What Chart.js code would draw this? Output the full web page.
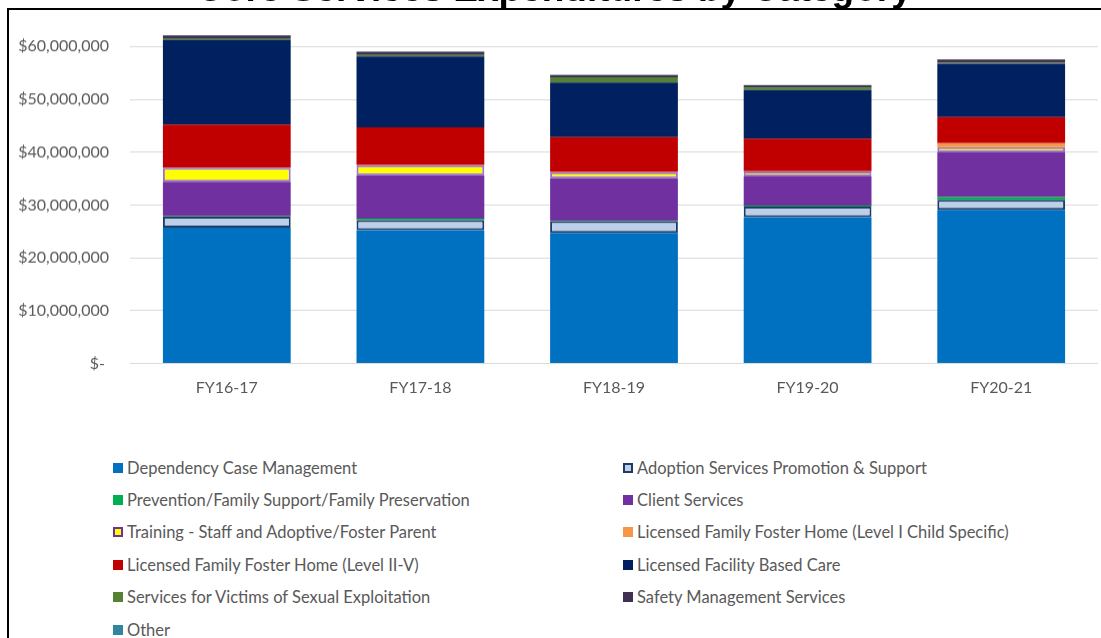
<!DOCTYPE html>
<html>
<head>
<meta charset="utf-8">
<title>Core Services Expenditures by Category</title>
<script src="https://cdn.jsdelivr.net/npm/chart.js@4.4.1/dist/chart.umd.min.js"></script>
<style>
  html, body { margin: 0; padding: 0; background: #fff; overflow: hidden; }
  body { width: 1101px; height: 638px; position: relative; font-family: Lato, sans-serif; }
  #frame { position: absolute; left: 7px; top: 8px; width: 1094px; height: 630px;
           border-left: 2px solid #000; border-top: 2px solid #000; box-sizing: border-box; }
  #title { position: absolute; left: 7px; width: 1094px; top: -29px; text-align: center;
           font: bold 37px "Liberation Sans", Arial, sans-serif; line-height: 36px; color: #000; white-space: nowrap; }
  #chartBox { position: absolute; left: 0; top: -18px; width: 1101px; height: 421px; }
  .item { position: absolute; display: flex; align-items: center; height: 20px;
          font-size: 16.5px; color: #595959; white-space: nowrap; }
  .swatch { width: 10px; height: 10px; box-sizing: border-box; margin-right: 4px; flex: none; }
</style>
</head>
<body>
<div id="frame"></div>
<div id="chartBox"><canvas id="chart"></canvas></div>
<div id="title">Core Services Expenditures by Category</div>
<div id="legend"></div>
<script>
const categories = ["FY16-17", "FY17-18", "FY18-19", "FY19-20", "FY20-21"];

// values in dollars
const dependencyCase = [25700000, 25250000, 24750000, 27700000, 29100000];
const adoptionServices = [2100000, 1900000, 2200000, 2000000, 1900000];
const prevention = [100000, 300000, 100000, 200000, 500000];
const clientServices = [6500000, 8200000, 8000000, 5500000, 8450000];
const training = [2650000, 1900000, 1150000, 950000, 1000000];
const fosterLevelI = [50000, 50000, 50000, 50000, 750000];
const fosterLevelII = [8100000, 7100000, 6600000, 6150000, 4950000];
const facilityCare = [16100000, 13400000, 10350000, 9200000, 10100000];
const victimsServices = [300000, 300000, 1000000, 500000, 200000];
const safetyManagement = [500000, 600000, 400000, 400000, 600000];
const other = [50000, 50000, 50000, 50000, 50000];

const yTicks = [0, 10000000, 20000000, 30000000, 40000000, 50000000, 60000000, 70000000];

const series = [
    { label: "Dependency Case Management", data: dependencyCase, color: "#0070C0" },
    { label: "Adoption Services Promotion & Support", data: adoptionServices, color: "#BDD0E9", border: "#1F3864" },
    { label: "Prevention/Family Support/Family Preservation", data: prevention, color: "#00B050" },
    { label: "Client Services", data: clientServices, color: "#7030A0" },
    { label: "Training - Staff and Adoptive/Foster Parent", data: training, color: "#FFFF00", border: "#9B6FD0" },
    { label: "Licensed Family Foster Home (Level I Child Specific)", data: fosterLevelI, color: "#F79646" },
    { label: "Licensed Family Foster Home (Level II-V)", data: fosterLevelII, color: "#C00000" },
    { label: "Licensed Facility Based Care", data: facilityCare, color: "#002060" },
    { label: "Services for Victims of Sexual Exploitation", data: victimsServices, color: "#548235" },
    { label: "Safety Management Services", data: safetyManagement, color: "#403152" },
    { label: "Other", data: other, color: "#31859C" },
];

const textColor = "#595959";
const tickFont = { family: "Lato", size: 16 };

function money(v) {
    if (v === 0) return "$- ";
    return "$" + v.toLocaleString("en-US");
}

const datasets = series.map((s) => ({
    label: s.label,
    data: s.data,
    backgroundColor: s.color,
    borderColor: s.border || s.color,
    borderWidth: s.border ? 2 : 0,
    borderSkipped: false,
    barPercentage: 0.66,
    categoryPercentage: 1.0,
}));

const chart = new Chart(document.getElementById("chart"), {
    type: "bar",
    data: { labels: categories, datasets },
    options: {
        responsive: true,
        maintainAspectRatio: false,
        animation: false,
        devicePixelRatio: 1,
        layout: { padding: { top: 0, right: 3, left: 0, bottom: 0 } },
        plugins: { legend: { display: false }, tooltip: { enabled: false } },
        scales: {
            x: {
                stacked: true,
                grid: { display: false, drawTicks: false },
                border: { display: false },
                ticks: { color: textColor, font: tickFont, padding: 15 },
                afterFit: (scale) => { scale.height = 40; },
            },
            y: {
                stacked: true,
                min: yTicks[0],
                max: yTicks[yTicks.length - 1],
                border: { display: false },
                grid: { color: "#D9D9D9", drawTicks: false },
                afterBuildTicks: (scale) => { scale.ticks = yTicks.map((v) => ({ value: v })); },
                ticks: {
                    color: textColor,
                    font: tickFont,
                    padding: 21,
                    callback: (v) => (v === 70000000 ? null : money(v)),
                },
                afterFit: (scale) => { scale.width = 130; },
            },
        },
    },
});

// fit the plot area: $0 line at y=363, $70M just above the visible top (y=-6)
const area = chart.chartArea;
const box = document.getElementById("chartBox");
box.style.height = (421 + 369 - (area.bottom - area.top)) + "px";
box.style.top = -(Math.round(area.top) + 6) + "px";
chart.resize();

// two-column legend like the original
const legend = document.getElementById("legend");
series.forEach((s, i) => {
    const item = document.createElement("div");
    item.className = "item";
    item.style.left = (i % 2 ? 623 : 113) + "px";
    item.style.top = (457.5 + Math.floor(i / 2) * 32.4) + "px";
    const sw = document.createElement("span");
    sw.className = "swatch";
    sw.style.background = s.color;
    if (s.border) sw.style.border = "2px solid " + (s.label.startsWith("Training") ? "#7030A0" : s.border);
    const txt = document.createElement("span");
    txt.textContent = s.label;
    item.appendChild(sw);
    item.appendChild(txt);
    legend.appendChild(item);
});
</script>
</body>
</html>
